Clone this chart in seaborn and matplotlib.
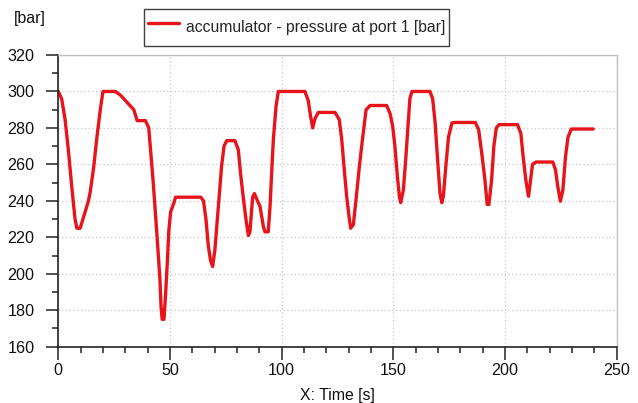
import matplotlib
matplotlib.use("Agg")
import matplotlib.pyplot as plt
from matplotlib.ticker import MultipleLocator
import seaborn as sns
import pandas as pd

time_s = [0, 1.5, 3, 4.5, 6, 7.5, 8.3, 9.8, 11.3, 13.5, 14.3, 15.8, 17.3, 18.8, 20,
          25.5, 27.8, 30.8, 33.8, 35.3, 39, 40.5, 41.3, 42.5, 43.5, 44.3, 45.5, 46,
          46.5, 47.3, 48, 48.8, 49.5, 50.3, 51.8, 52.5, 63.8, 65, 66.1, 67.2, 68.2,
          69.1, 70.1, 71.2, 72.1, 73.1, 74.2, 75.4, 79.1, 80.6, 81.6, 82.8, 84, 85.1,
          85.8, 87, 87.8, 88.8, 90.3, 91.8, 92.5, 94, 94.8, 95.5, 96.3, 97.5, 98.5,
          110.4, 111.9, 113, 113.9, 114.9, 116.4, 123.9, 125.8, 126.9, 127.9, 129.1,
          130.3, 130.9, 132.1, 133.3, 134.8, 136.3, 137.8, 139.6, 147, 148.5, 149.7,
          150.7, 151.8, 152.7, 153.3, 154.5, 155.5, 156.5, 157.4, 158.3, 166.4, 167.6,
          168.7, 169.9, 170.9, 171.7, 172.4, 173.5, 174.7, 176.2, 177.7, 186.7, 188.2,
          189.8, 191, 192, 192.8, 194, 195, 196.1, 197.3, 205.6, 207.1, 208.1, 209.3,
          210.5, 211.1, 212.3, 213.9, 221.4, 222.6, 223.6, 224.8, 225.9, 227.1, 228.2,
          229.7, 239.5]
pressure_bar = [300, 296, 285, 268, 248, 230, 225, 225, 231, 240, 245, 258, 275, 290, 300,
                300, 298, 294, 290, 284, 284, 280, 268, 250, 233, 219, 197, 182,
                175, 175, 188, 206, 224, 234, 239, 242, 242, 240, 230, 215, 207,
                204, 213, 230, 244, 259, 270, 273, 273, 268, 255, 242, 230, 221,
                223, 242, 244, 241, 237, 226, 223, 223, 237, 255, 274, 292, 300,
                300, 295, 286, 280, 285, 288.5, 288.5, 284.5, 273.5, 259, 242.5,
                230, 225, 227, 240.7, 259, 275, 290, 292.3, 292.3, 288, 281,
                270, 253.5, 242.5, 239, 246, 262, 280, 296, 300, 300, 296,
                283, 261, 244, 239, 242.6, 259, 275, 282.7, 283, 283, 279,
                264, 251.6, 238, 238, 251.6, 270, 280, 281.8, 281.8, 277, 264.4, 251.6,
                242.5, 248, 260, 261.3, 261.3, 257, 248, 239.8, 246, 264.4, 275,
                279.4, 279.4]

series_label = "accumulator - pressure at port 1 [bar]"
x_label = "X: Time [s]"
y_unit = "[bar]"

sns.set_style("white")
plt.rcParams["font.family"] = ["Liberation Sans", "DejaVu Sans"]

fig = plt.figure(figsize=(6.38, 4.03), dpi=100)
ax = fig.add_axes([58.3 / 638, 1 - 346.7 / 403, (616.7 - 58.3) / 638, (346.7 - 55) / 403])

df = pd.DataFrame({"t": time_s, "p": pressure_bar})
sns.lineplot(data=df, x="t", y="p", ax=ax, color="#e8141c", linewidth=2.4,
             sort=False, estimator=None, label=series_label)

ax.set_xlim(0, 250)
ax.set_ylim(160, 320)
ax.xaxis.set_major_locator(MultipleLocator(50))
ax.xaxis.set_minor_locator(MultipleLocator(10))
ax.yaxis.set_major_locator(MultipleLocator(20))
ax.yaxis.set_minor_locator(MultipleLocator(10))

ax.grid(True, which="major", color="#c8c8c8", linestyle=(0, (1, 2)), linewidth=0.9)
ax.set_axisbelow(True)

for s in ["left", "bottom"]:
    ax.spines[s].set_color("#222222")
    ax.spines[s].set_linewidth(1.2)
for s in ["top", "right"]:
    ax.spines[s].set_color("#c0c0c0")
    ax.spines[s].set_linewidth(1.0)

ax.tick_params(axis="both", which="major", direction="out", length=9, width=1.1,
               color="#222222", labelsize=11.6, labelcolor="#111111")
ax.tick_params(axis="both", which="minor", direction="out", length=4.5, width=1.1,
               color="#222222")
ax.tick_params(axis="x", which="major", pad=3)
ax.tick_params(axis="y", which="major", pad=8)
ax.tick_params(bottom=True, left=True, which="both")

ax.set_xlabel(x_label, fontsize=11.4, color="#111111", labelpad=7)
ax.set_ylabel("")
fig.text(14 / 638, 1 - 19 / 403, y_unit, fontsize=11.4, color="#111111",
         ha="left", va="center")

leg = ax.legend(loc="upper left", bbox_to_anchor=(144 / 638, 1 - 9.3 / 403),
                bbox_transform=fig.transFigure, borderaxespad=0, fontsize=11.3,
                frameon=True, fancybox=False, handlelength=1.95, handletextpad=0.45,
                handleheight=2.45, borderpad=0.25)
leg.get_frame().set_edgecolor("#111111")
leg.get_frame().set_linewidth(1.0)

fig.savefig("out.png", dpi=100)
